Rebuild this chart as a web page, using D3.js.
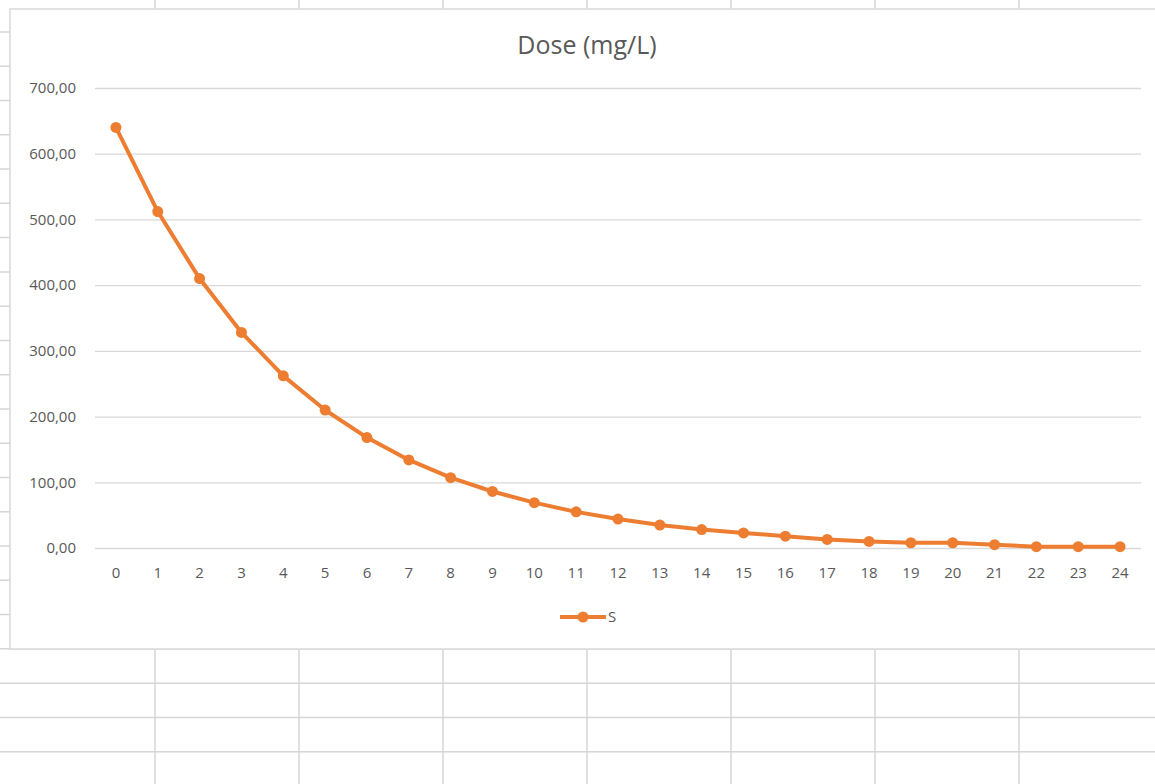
<!DOCTYPE html>
<html>
<head>
<meta charset="utf-8">
<script src="https://cdn.jsdelivr.net/npm/d3@7.9.0/dist/d3.min.js"></script>
<style>
  html, body { margin: 0; padding: 0; background: #fff; }
  svg { display: block; font-family: "Open Sans", "Noto Sans", sans-serif; }
</style>
</head>
<body>
<svg id="chart" width="1155" height="784"></svg>
<script>
// ============= DATA ==================
const title = "Dose (mg/L)";
const seriesName = "S";
const hours = d3.range(0, 25);
const dose = [640, 512, 410, 328, 262, 210, 168, 134, 107, 86, 69, 55, 44,
  35, 28, 23, 18, 13, 10, 8, 8, 5, 2, 2, 2];
const yTicks = [0, 100, 200, 300, 400, 500, 600, 700];

// spreadsheet cells behind the chart
const colEdges = [155, 299, 443, 587, 731, 875, 1019];
const rowEdges = d3.range(0, 23).map(k => 32 + k * 34.27);

const orange = "#ED7D31";
const grey = "#595959";

const svg = d3.select("#chart");
const W = 1155, H = 784;

// ============= SHEET GRID ==================
const sheet = svg.append("g").attr("stroke", "#d6d6d6").attr("stroke-width", 1.5);
sheet.selectAll("line.col")
  .data(colEdges)
  .join("line")
  .attr("x1", d => d).attr("x2", d => d)
  .attr("y1", 0).attr("y2", H);
sheet.selectAll("line.row")
  .data(rowEdges)
  .join("line")
  .attr("x1", 0).attr("x2", W)
  .attr("y1", d => d).attr("y2", d => d);

// chart box
const box = { x: 10, y: 9, w: 1160, h: 640 };
svg.append("rect")
  .attr("x", box.x).attr("y", box.y)
  .attr("width", box.w).attr("height", box.h)
  .attr("fill", "#fff")
  .attr("stroke", "#d9d9d9")
  .attr("stroke-width", 1.5);

// ============= PLOT ==================
const plot = { left: 95, right: 1141, top: 88, bottom: 548 };

const x = d3.scaleBand()
  .domain(hours)
  .range([plot.left, plot.right]);

const y = d3.scaleLinear()
  .domain([0, 700])
  .range([plot.bottom, plot.top]);

const cx = d => x(d) + x.bandwidth() / 2;

svg.append("text")
  .attr("x", 587).attr("y", 54)
  .attr("text-anchor", "middle")
  .attr("fill", grey)
  .attr("font-size", 25)
  .attr("font-family", "'Open Sans', sans-serif")
  .text(title);

// y axis: gridlines + labels
const yAxis = svg.append("g")
  .attr("transform", `translate(${plot.left},0)`)
  .call(d3.axisLeft(y)
    .tickValues(yTicks)
    .tickSize(-(plot.right - plot.left))
    .tickPadding(19)
    .tickFormat(d => d3.format(".2f")(d).replace(".", ",")));
yAxis.select(".domain").remove();
yAxis.selectAll(".tick line").attr("stroke", "#d9d9d9").attr("stroke-width", 1.3);
yAxis.selectAll(".tick text")
  .attr("fill", grey)
  .attr("font-size", 15)
  .attr("font-family", "'Open Sans', sans-serif");

// x axis labels
const xAxis = svg.append("g")
  .attr("transform", `translate(0,${plot.bottom})`)
  .call(d3.axisBottom(x).tickSize(0).tickPadding(19));
xAxis.select(".domain").remove();
xAxis.selectAll(".tick text")
  .attr("fill", grey)
  .attr("font-size", 15)
  .attr("font-family", "'Open Sans', sans-serif");

// series line
const line = d3.line()
  .x((d, i) => cx(hours[i]))
  .y(d => y(d));

svg.append("path")
  .datum(dose)
  .attr("fill", "none")
  .attr("stroke", orange)
  .attr("stroke-width", 4)
  .attr("stroke-linejoin", "round")
  .attr("d", line);

svg.append("g")
  .selectAll("circle")
  .data(dose)
  .join("circle")
  .attr("cx", (d, i) => cx(hours[i]))
  .attr("cy", d => y(d))
  .attr("r", 5.5)
  .attr("fill", orange);

// ============= LEGEND ==================
const legend = svg.append("g").attr("transform", "translate(560,617)");
legend.append("line")
  .attr("x1", 0).attr("x2", 46)
  .attr("stroke", orange).attr("stroke-width", 4);
legend.append("circle")
  .attr("cx", 23).attr("r", 5.5).attr("fill", orange);
legend.append("text")
  .attr("x", 48).attr("dy", "0.35em")
  .attr("fill", grey)
  .attr("font-size", 15)
  .text(seriesName);
</script>
</body>
</html>
